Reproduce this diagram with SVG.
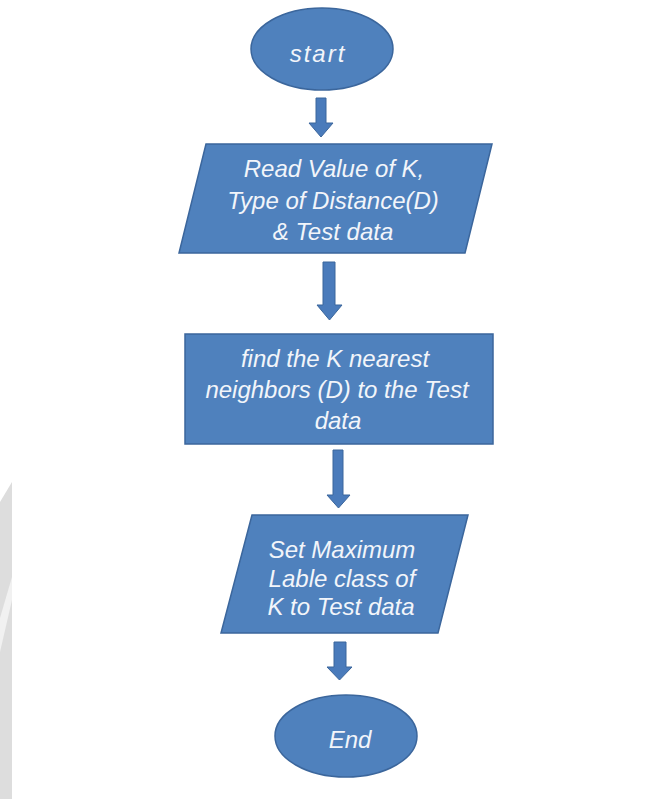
<svg xmlns="http://www.w3.org/2000/svg" width="669" height="799" viewBox="0 0 669 799">
  <style>
    .shape { fill: #4f81bd; stroke: #3b669c; stroke-width: 1.5; }
    .arrow { fill: #4a7bbb; stroke: #3b669c; stroke-width: 1; }
    .label { font-family: "Liberation Sans", Arial, sans-serif; font-style: italic; font-size: 24px; fill: #f2f5fa; text-anchor: middle; }
  </style>
  <rect x="0" y="0" width="669" height="799" fill="#ffffff"/>
  <g id="watermark-edge">
    <polygon points="12,482 12,799 0,799 0,502" fill="#dddddd"/>
    <polygon points="12,577 12,600 0,652 0,618" fill="#f1f1f1"/>
  </g>
  <g id="connectors">
    <polygon class="arrow" points="316,98 326,98 326,123 333,123 321,137 309,123 316,123"/>
    <polygon class="arrow" points="323,262 335,262 335,305 342,305 329.5,320 317,305 323,305"/>
    <polygon class="arrow" points="333,450 343,450 343,495 350,495 338.5,508 327,495 333,495"/>
    <polygon class="arrow" points="334,642 346,642 346,667 352,667 339.5,680 327,667 334,667"/>
  </g>
  <g id="start">
    <ellipse class="shape" cx="322" cy="49" rx="71" ry="41"/>
    <text class="label" x="318" y="62" font-size="26" letter-spacing="2">start</text>
  </g>
  <g id="read-input">
    <polygon class="shape" points="206,144 492,144 465,253 179,253"/>
    <text class="label" x="334" y="177">Read Value of K,</text>
    <text class="label" x="333" y="209">Type of Distance(D)</text>
    <text class="label" x="333" y="240">&amp; Test data</text>
  </g>
  <g id="find-neighbors">
    <rect class="shape" x="185" y="334" width="308" height="110"/>
    <text class="label" x="335" y="367">find the K nearest</text>
    <text class="label" x="337" y="398">neighbors (D) to the Test</text>
    <text class="label" x="338" y="429">data</text>
  </g>
  <g id="set-label">
    <polygon class="shape" points="252,515 468,515 438,633 221,633"/>
    <text class="label" x="342" y="558">Set Maximum</text>
    <text class="label" x="342" y="587">Lable class of</text>
    <text class="label" x="341" y="615">K to Test data</text>
  </g>
  <g id="end">
    <ellipse class="shape" cx="346" cy="736" rx="71" ry="41"/>
    <text class="label" x="350" y="748" font-size="29">End</text>
  </g>
</svg>
